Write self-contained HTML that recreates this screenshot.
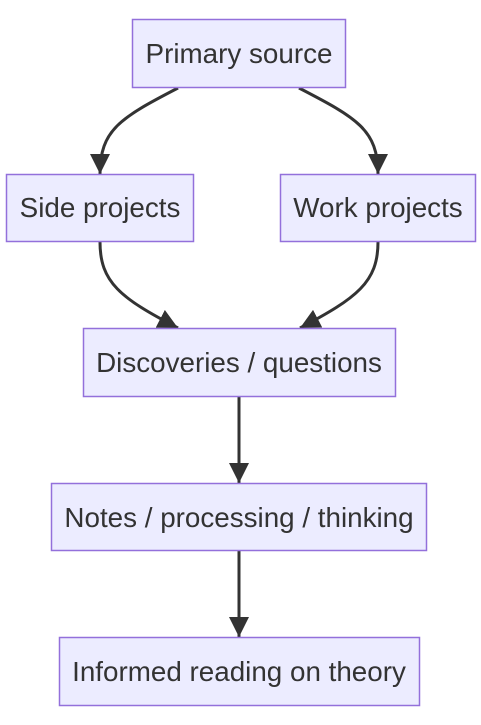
<!DOCTYPE html>
<html><head><meta charset="utf-8"><style>
html,body{margin:0;padding:0;background:#fff;width:481px;height:725px;overflow:hidden}
</style></head><body>
<svg width="481" height="725" viewBox="0 0 481 725" xmlns="http://www.w3.org/2000/svg">
<defs>
<marker id="a" viewBox="0 0 10 10" refX="10" refY="5" markerWidth="20" markerHeight="20" markerUnits="userSpaceOnUse" orient="auto">
<path d="M0,0 L10,5 L0,10 z" fill="#333"/>
</marker>
</defs>
<g fill="none" stroke="#333" stroke-width="3">
<path d="M178,88 C120,118 100,130 100,174" marker-end="url(#a)"/>
<path d="M299,88 C357,118 378,130 378,174" marker-end="url(#a)"/>
<path d="M100,242 C100,282 120,298 178,328" marker-end="url(#a)"/>
<path d="M378,242 C378,282 357,298 300,328" marker-end="url(#a)"/>
<path d="M239,397 L239,483" marker-end="url(#a)"/>
<path d="M239,551 L239,637" marker-end="url(#a)"/>
</g>
<g fill="#ECECFF" stroke="#9370DB" stroke-width="1.5">
<rect x="132.5" y="19.5" width="213" height="68"/>
<rect x="6.5" y="174.5" width="187" height="67"/>
<rect x="280.5" y="174.5" width="195" height="67"/>
<rect x="83.5" y="328.5" width="312" height="68"/>
<rect x="51.5" y="483.5" width="375" height="67"/>
<rect x="59.5" y="637.5" width="360" height="68"/>
</g>
<g font-family="Liberation Sans, sans-serif" font-size="27.8" fill="#333" text-anchor="middle">
<text x="239" y="63">Primary source</text>
<text x="100" y="217">Side projects</text>
<text x="378" y="217">Work projects</text>
<text x="239" y="372">Discoveries / questions</text>
<text x="239" y="527">Notes / processing / thinking</text>
<text x="239" y="681">Informed reading on theory</text>
</g>
</svg>
</body></html>
